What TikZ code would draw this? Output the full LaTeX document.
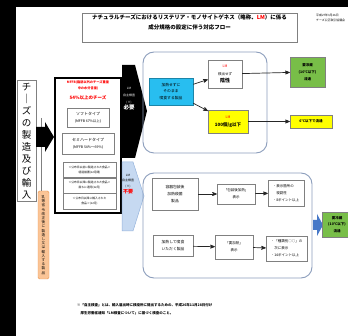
\documentclass[tikz,border=0pt]{standalone}
\usepackage{fontspec}
\setmainfont{Noto Sans CJK JP}
\usetikzlibrary{arrows,chains,positioning,scopes}
\definecolor{lmred}{RGB}{255,0,0}
\definecolor{lmframe}{RGB}{140,158,188}
\definecolor{lmcyan}{RGB}{40,190,240}
\definecolor{lmgreen}{RGB}{120,190,72}
\definecolor{lmyellow}{RGB}{255,255,0}
\definecolor{lmpeach}{RGB}{250,196,150}
\definecolor{lmorange}{RGB}{235,150,80}
\definecolor{lmsky}{RGB}{198,217,241}
\definecolor{lmskyline}{RGB}{150,180,220}
\definecolor{lmblue}{RGB}{70,120,200}
\tikzset{>=stealth',every join/.style={->,line width=0.7pt,black!85}}
\tikzstyle{box}=[draw=gray,line width=0.4pt,fill=white,inner sep=0pt,align=center,
   font=\fontsize{3.5}{7}\selectfont]
\tikzstyle{rbox}=[draw=lmframe,line width=0.9pt,rounded corners=11pt,inner sep=0pt]
\tikzstyle{cond}=[box,minimum width=53pt,minimum height=15.3pt,
   font=\fontsize{2.8}{5}\selectfont]

\begin{document}
\begin{tikzpicture}[x=1pt,y=-1pt]
   \useasboundingbox (0,0) rectangle (348,336);
   \fill[white] (0,0) rectangle (348,336);
   \fill[black] (0,0) rectangle (15.5,336);
   \fill[black] (0,0) rectangle (348,7);
   % title
   \node[box,minimum width=215pt,minimum height=29pt] (title) at (189.5,27.5) {};
   \node[align=center,inner sep=0pt,font=\fontsize{5.5}{10}\selectfont\bfseries] (titletxt) at (189.5,22)
     {ナチュラルチーズにおけるリステリア・モノサイトゲネス（略称、\textcolor{lmred}{LM}）に係る\\
      成分規格の設定に伴う対応フロー};
   \node[anchor=west,align=left,inner sep=0pt,font=\fontsize{2.9}{4.5}\selectfont] (date) at (316,18)
     {平成27年3月26日\\チーズ公正取引協議会};
   % left column
   \node[box,minimum width=19pt,minimum height=121pt,font=\fontsize{9.5}{12}\selectfont] (mkb) at (26.5,141)
     {チ\\｜\\ズ\\の\\製\\造\\及\\び\\輸\\入};
   \node[box,draw=lmorange,fill=lmpeach,rounded corners=1.5pt,minimum width=11pt,minimum height=88pt,
     font=\fontsize{3.6}{4.2}\selectfont] (milk) at (43.5,235)
     {乳\\等\\省\\令\\改\\正\\後\\に\\製\\造\\し\\又\\は\\輸\\入\\す\\る\\製\\品};
   \coordinate (lnk) at (41,118);
   \draw[gray,line width=0.4pt] (lnk) -- (lnk |- milk.north);
   \fill[black] (36,127) -- (45,127) -- (45,122) -- (54,137) -- (45,152) -- (45,147) -- (36,147) -- cycle;
   % cheeses with MFFB >= 54%
   \node[draw=black,line width=1.2pt,minimum width=66pt,minimum height=135pt,inner sep=0pt] (mffb) at (88,145.5) {};
   \node[align=center,inner sep=0pt,text=lmred,font=\fontsize{3.2}{6}\selectfont\bfseries] (mffbt) at (88,85)
     {MFFB(脂肪以外のチーズ重量\\中の水分含量)};
   \node[inner sep=0pt,text=lmred,font=\fontsize{4.5}{6}\selectfont\bfseries] (p54) at (88,98) {54\%以上のチーズ};
   \node[box,minimum width=42pt,minimum height=19pt,font=\fontsize{3.5}{7.5}\selectfont] (soft) at (88,117.5)
     {{\fontsize{4}{5}\selectfont ソフトタイプ}\\(MFFB 67\%以上)};
   \node[box,minimum width=52pt,minimum height=21pt,font=\fontsize{3.5}{7.5}\selectfont] (semi) at (88,143.5)
     {{\fontsize{4}{5}\selectfont セミハードタイプ}\\(MFFB 54\%〜69\%)};
   \node[cond] (c1) at (89.5,169.7) {＜公布日以前に製造された食品＞\\経過措置(12月間)};
   \node[cond,below=0pt of c1] (c2) {＜公布日以降に製造された食品＞\\直ちに適用(12月)};
   \node[cond,below=0pt of c2] (c3) {＜公布日以降に輸入された\\食品＞(12月)};
   % self-inspection arrows
   \fill[black] (122,65) -- (135,65) -- (147,111) -- (135,158) -- (122,158) -- cycle;
   \node[align=center,inner sep=0pt,text=white,font=\fontsize{3}{6.6}\selectfont] (chk) at (129,99)
     {LM\\自主検査\\(※)\\{\fontsize{5.5}{6}\selectfont\bfseries 必要}};
   \filldraw[fill=lmsky,draw=lmskyline,line width=0.5pt] (122,162) -- (133,162) -- (144,196) -- (133,231) -- (122,231) -- cycle;
   \node[align=center,inner sep=0pt,font=\fontsize{3}{5.8}\selectfont] (nochk) at (128,184)
     {LM\\自主検査\\(※)\\{\fontsize{5}{5.5}\selectfont\bfseries\color{lmred}不要}};
   % eaten without heating
   \node[rbox,minimum width=124pt,minimum height=101pt] (raw) at (205,102.5) {};
   \node[box,fill=lmcyan,draw=lmcyan!70!black,minimum width=44pt,minimum height=27pt,
     font=\fontsize{3.8}{6.5}\selectfont] (cyan) at (171,91.5) {加熱せずに\\そのまま\\喫食する製品};
   \node[box,minimum width=34pt,minimum height=28pt,font=\fontsize{3.5}{7.5}\selectfont] (lmneg) at (225,74)
     {\textcolor{lmred}{LM}\\検出せず\\{\fontsize{5}{5.5}\selectfont\bfseries 陰性}};
   \node[box,fill=lmyellow,minimum width=40pt,minimum height=23pt,font=\fontsize{3.5}{8}\selectfont] (yel1) at (228,121.5)
     {\textcolor{lmred}{LM}\\{\fontsize{4.5}{5}\selectfont\bfseries 100個/g以下}};
   \node[box,fill=lmgreen,minimum width=35pt,minimum height=30pt,font=\fontsize{3.5}{7}\selectfont\bfseries] (green1) at (307.5,72)
     {要冷蔵\\(10℃以下)\\流通};
   \node[box,fill=lmyellow,minimum width=42pt,minimum height=13pt,font=\fontsize{3.5}{7}\selectfont\bfseries] (yel2) at (311,121.5)
     {6℃以下で流通};
   {
     [start chain] \chainin (cyan);
     { [start branch=neg] \chainin (lmneg) [join];
       \chainin (green1) [join];
     }
     { [start branch=low] \chainin (yel1) [join];
       \chainin (yel2) [join];
     }
   }
   % eaten after heating
   \node[rbox,minimum width=169pt,minimum height=105pt] (heat) at (227.5,225.5) {};
   \node[box,minimum width=46pt,minimum height=32pt,font=\fontsize{3.8}{7}\selectfont] (hpk) at (175,194)
     {容器包装後\\加熱殺菌\\製品};
   \node[box,minimum width=38pt,minimum height=20pt] (hpkl) at (236,194) {「包装後加熱」\\表示};
   \node[box,minimum width=36pt,minimum height=26pt,align=left] (hpkn) at (286,193)
     {・表示箇所の\\　視認性\\・8ポイント以上};
   \node[box,minimum width=40pt,minimum height=21pt,font=\fontsize{3.8}{7}\selectfont] (ckp) at (173,246)
     {加熱して喫食\\いただく製品};
   \node[box,minimum width=38pt,minimum height=24pt] (ckpl) at (234,247) {「要加熱」\\表示};
   \node[box,minimum width=41pt,minimum height=25pt,align=left] (ckpn) at (286.5,248.5)
     {・「種類別○○」の\\　次に表示\\・14ポイント以上};
   {
     [start chain] \chainin (hpk);
     \chainin (hpkl) [join];
     \chainin (hpkn) [join];
   }
   {
     [start chain] \chainin (ckp);
     \chainin (ckpl) [join];
     \chainin (ckpn) [join];
   }
   \fill[lmblue] (313,220) -- (317,220) -- (317,214) -- (323,225) -- (317,236) -- (317,230) -- (313,230) -- cycle;
   \node[box,fill=lmgreen,minimum width=30pt,minimum height=25pt,font=\fontsize{3.5}{6.5}\selectfont\bfseries] (green2) at (337,224.5)
     {要冷蔵\\(10℃以下)\\流通};
   % footnote
   \node[anchor=west,align=left,inner sep=0pt,font=\fontsize{3.5}{8}\selectfont\bfseries] (note) at (77,309)
     {※「自主検査」とは、輸入届出時に検疫所に提出するための、平成26年11月28日付け\\
      　厚生労働省通知「LM検査について」に基づく検査のこと。};
\end{tikzpicture}
\end{document}
